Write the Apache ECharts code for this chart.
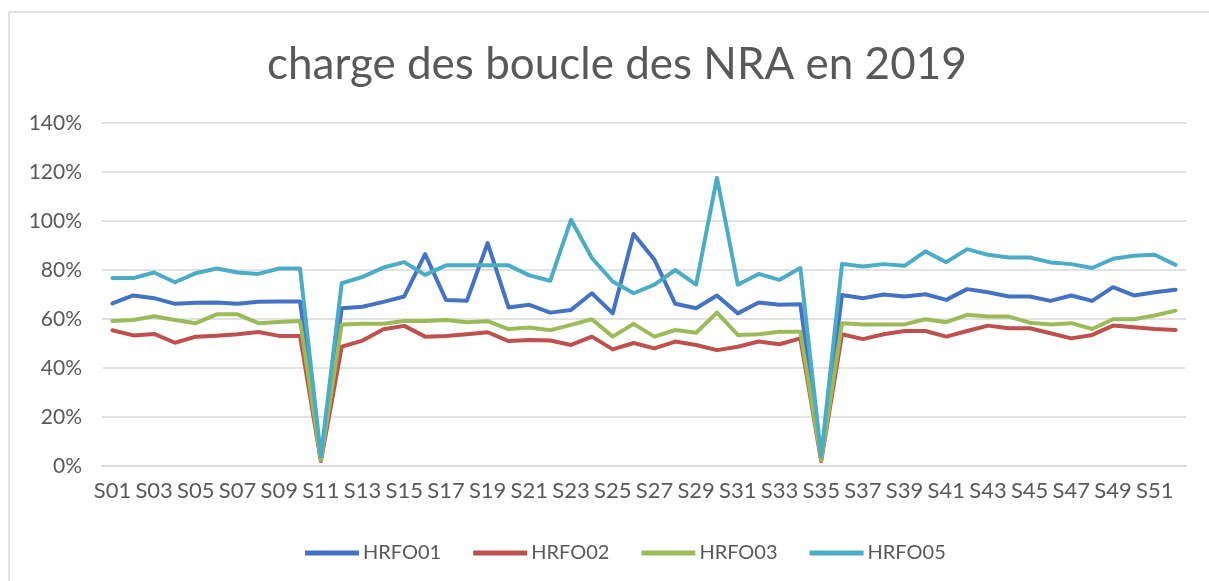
<!DOCTYPE html>
<html>
<head>
<meta charset="utf-8">
<script src="https://cdn.jsdelivr.net/npm/echarts@6/dist/echarts.min.js"></script>
<style>
  html, body { margin: 0; padding: 0; background: #fff; }
  #chart { width: 1209px; height: 581px; }
</style>
</head>
<body>
<div id="chart"></div>
<script>
var weeks = [];
for (var w = 1; w <= 52; w++) {
  weeks.push('S' + (w < 10 ? '0' + w : w));
}

var hrfo01 = [66.4, 69.6, 68.5, 66.2, 66.6, 66.7, 66.2, 67, 67.1, 67.1,
  3, 64.4, 65, 67, 69.2, 86.5, 67.8, 67.4, 91, 64.7,
  65.8, 62.6, 63.7, 70.5, 62.3, 94.7, 84.2, 66.2, 64.4, 69.6,
  62.3, 66.7, 65.8, 66, 3, 69.8, 68.5, 70, 69.2, 70.1,
  67.8, 72.2, 70.9, 69.2, 69.2, 67.4, 69.6, 67.4, 73, 69.6,
  70.9, 71.9];

var hrfo02 = [55.4, 53.3, 53.9, 50.3, 52.8, 53.2, 53.8, 54.7, 53.1, 53.1,
  2, 48.7, 51.2, 55.8, 57.2, 52.8, 53.1, 53.8, 54.6, 51,
  51.4, 51.2, 49.4, 52.8, 47.6, 50.2, 48, 50.8, 49.4, 47.3,
  48.7, 50.8, 49.7, 52.1, 2, 53.8, 51.8, 53.8, 55.1, 55.1,
  52.8, 55.1, 57.3, 56.2, 56.2, 54.2, 52.1, 53.5, 57.3, 56.6,
  55.9, 55.5];

var hrfo03 = [59.2, 59.6, 61.1, 59.6, 58.3, 61.9, 61.9, 58.3, 58.8, 59.2,
  2.5, 57.8, 58.1, 58.1, 59.2, 59.2, 59.6, 58.7, 59.1, 55.9,
  56.5, 55.4, 57.6, 59.9, 52.8, 58, 52.8, 55.5, 54.4, 62.6,
  53.5, 53.8, 54.8, 54.8, 2.5, 58.3, 57.8, 57.8, 57.8, 59.9,
  58.7, 61.7, 61, 61, 58.5, 57.8, 58.3, 55.9, 59.9, 59.9,
  61.4, 63.4];

var hrfo05 = [76.7, 76.7, 79, 75, 78.7, 80.6, 79, 78.4, 80.6, 80.6,
  4, 74.6, 77.2, 81, 83.2, 78, 81.9, 81.9, 81.9, 81.9,
  77.8, 75.6, 100.5, 84.9, 75.3, 70.5, 74, 80, 74, 117.6,
  74, 78.4, 76, 80.8, 4, 82.5, 81.4, 82.4, 81.7, 87.6,
  83.2, 88.5, 86.2, 85.1, 85.1, 83.1, 82.4, 80.8, 84.6, 85.8,
  86.2, 82.1];

var seriesNames = ['HRFO01', 'HRFO02', 'HRFO03', 'HRFO05'];
var seriesData = [hrfo01, hrfo02, hrfo03, hrfo05];
var colors = ['#4472C4', '#C0504D', '#9BBB59', '#4BACC6'];

var textColor = '#595959';
var font = 'Lato';

var myChart = echarts.init(document.getElementById('chart'));

var option = {
  animation: false,
  backgroundColor: '#fff',
  color: colors,
  title: {
    text: 'charge des boucle des NRA en 2019',
    left: 262,
    top: 38,
    textStyle: {
      color: textColor,
      fontFamily: font,
      fontSize: 44,
      fontWeight: 'normal'
    }
  },
  graphic: [
    { type: 'line', shape: { x1: 9, y1: 12, x2: 1209, y2: 12 }, style: { stroke: '#d9d9d9', lineWidth: 1.5 } },
    { type: 'line', shape: { x1: 9, y1: 12, x2: 9, y2: 581 }, style: { stroke: '#d9d9d9', lineWidth: 1.5 } }
  ],
  legend: {
    data: seriesNames,
    left: 300,
    top: 538,
    icon: 'rect',
    itemWidth: 54,
    itemHeight: 5,
    itemGap: 32,
    textStyle: {
      color: textColor,
      fontFamily: font,
      fontSize: 20,
      padding: [0, 0, 0, -1]
    }
  },
  grid: {
    left: 102,
    right: 23,
    top: 123,
    bottom: 115,
    containLabel: false
  },
  xAxis: {
    type: 'category',
    data: weeks,
    boundaryGap: true,
    axisLine: { show: true, lineStyle: { color: '#d9d9d9', width: 1.5 } },
    axisTick: { show: false },
    axisLabel: {
      interval: 1,
      color: textColor,
      fontFamily: font,
      fontSize: 22,
      margin: 14
    }
  },
  yAxis: {
    type: 'value',
    min: 0,
    max: 140,
    interval: 20,
    axisLine: { show: false },
    axisTick: { show: false },
    axisLabel: {
      formatter: '{value}%',
      color: textColor,
      fontFamily: font,
      fontSize: 21,
      margin: 20
    },
    splitLine: { lineStyle: { color: '#d9d9d9', width: 1.5 } }
  },
  series: seriesNames.map(function (name, i) {
    return {
      name: name,
      type: 'line',
      data: seriesData[i],
      showSymbol: false,
      symbol: 'none',
      lineStyle: { width: 4, color: colors[i], join: 'round', cap: 'round' },
      itemStyle: { color: colors[i] }
    };
  })
};

myChart.setOption(option);
</script>
</body>
</html>
